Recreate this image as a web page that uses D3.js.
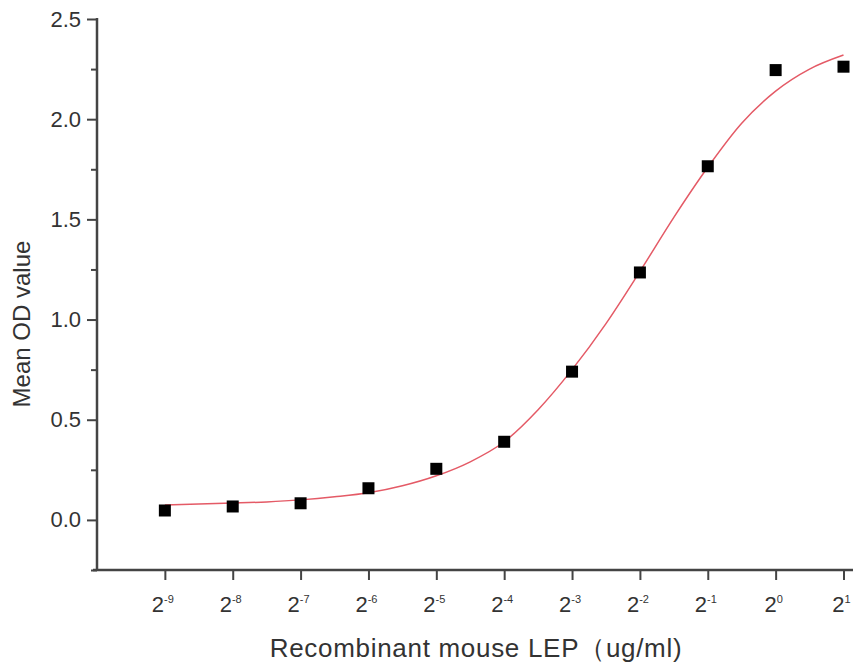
<!DOCTYPE html>
<html><head><meta charset="utf-8">
<script src="https://cdn.jsdelivr.net/npm/d3@7/dist/d3.min.js"></script>
<style>body{margin:0;background:#fff}svg text{font-family:"Liberation Sans",Arial,sans-serif;fill:#333}</style>
</head><body><svg id="c" width="853" height="666"></svg>
<script>
// data: concentration exponents (log2 ug/ml) and mean OD
const exponents = [-9,-8,-7,-6,-5,-4,-3,-2,-1,0,1];
const meanOD = [0.047,0.067,0.083,0.158,0.255,0.39,0.74,1.235,1.765,2.245,2.262];
// fitted curve at half-step exponents
const fitExponents = [-9,-8.5,-8,-7.5,-7,-6.5,-6,-5.5,-5,-4.5,-4,-3.5,-3,-2.5,-2,-1.5,-1,-0.5,0,0.5,1];
const fitOD = [0.075,0.079,0.084,0.09,0.10,0.115,0.135,0.17,0.22,0.29,0.39,0.55,0.75,0.98,1.24,1.51,1.76,1.98,2.14,2.25,2.32];
const yTicks = [0,0.5,1.0,1.5,2.0,2.5];
const yMinorTicks = [-0.25,0.25,0.75,1.25,1.75,2.25];
const xTitle = "Recombinant mouse LEP（ug/ml)";
const yTitle = "Mean OD value";

const svg = d3.select("#c");
const x = d3.scaleLinear().domain([-10, 1.14]).range([97, 853]);
const y = d3.scaleLinear().domain([-0.25, 2.5]).range([570, 19]);
const axisColor = "#444";

// y axis
const ya = svg.append("g").attr("transform",`translate(${x(-10)},0)`)
  .call(d3.axisLeft(y).tickValues(yTicks).tickSize(10).tickPadding(6).tickFormat(d3.format(".1f")));
ya.select(".domain").remove();
ya.selectAll("line").attr("stroke",axisColor).attr("stroke-width",2);
ya.selectAll("text").attr("font-size",22).attr("fill","#333").attr("font-family","Liberation Sans, Arial, sans-serif");
const ym = svg.append("g").attr("transform",`translate(${x(-10)},0)`)
  .call(d3.axisLeft(y).tickValues(yMinorTicks).tickSize(6).tickFormat(""));
ym.select(".domain").remove();
ym.selectAll("line").attr("stroke",axisColor).attr("stroke-width",2);
svg.append("line").attr("x1",x(-10)).attr("x2",x(-10)).attr("y1",y(2.5)-1).attr("y2",y(-0.25)+1)
  .attr("stroke",axisColor).attr("stroke-width",2.5);

// x axis
const xa = svg.append("g").attr("transform",`translate(0,${y(-0.25)})`)
  .call(d3.axisBottom(x).tickValues(exponents).tickSize(10).tickFormat(""));
xa.select(".domain").remove();
xa.selectAll("line").attr("stroke",axisColor).attr("stroke-width",2);
svg.append("line").attr("x1",x(-10)-4).attr("x2",853).attr("y1",y(-0.25)).attr("y2",y(-0.25))
  .attr("stroke",axisColor).attr("stroke-width",2.5);
const xl = svg.append("g").selectAll("text").data(exponents).join("text")
  .attr("x",d=>x(d)-2).attr("y",612).attr("text-anchor","middle").attr("font-size",22);
xl.append("tspan").text("2");
xl.append("tspan").attr("dy",-9).attr("font-size",11).text(d=>d);

// titles
svg.append("text").attr("x",476).attr("y",657).attr("text-anchor","middle").attr("font-size",26)
  .attr("letter-spacing",0.7).text(xTitle);
svg.append("text").attr("transform","translate(30,324) rotate(-90)").attr("text-anchor","middle").attr("font-size",24).text(yTitle);

// fit curve
const line = d3.line().x((d,i)=>x(fitExponents[i])).y(d=>y(d)).curve(d3.curveMonotoneX);
svg.append("path").attr("d",line(fitOD)).attr("fill","none").attr("stroke","#e45a66").attr("stroke-width",1.5);

// points
svg.append("g").selectAll("rect").data(meanOD).join("rect")
  .attr("x",(d,i)=>x(exponents[i])-6).attr("y",d=>y(d)-6).attr("width",12).attr("height",12).attr("fill","#000");
</script></body></html>
